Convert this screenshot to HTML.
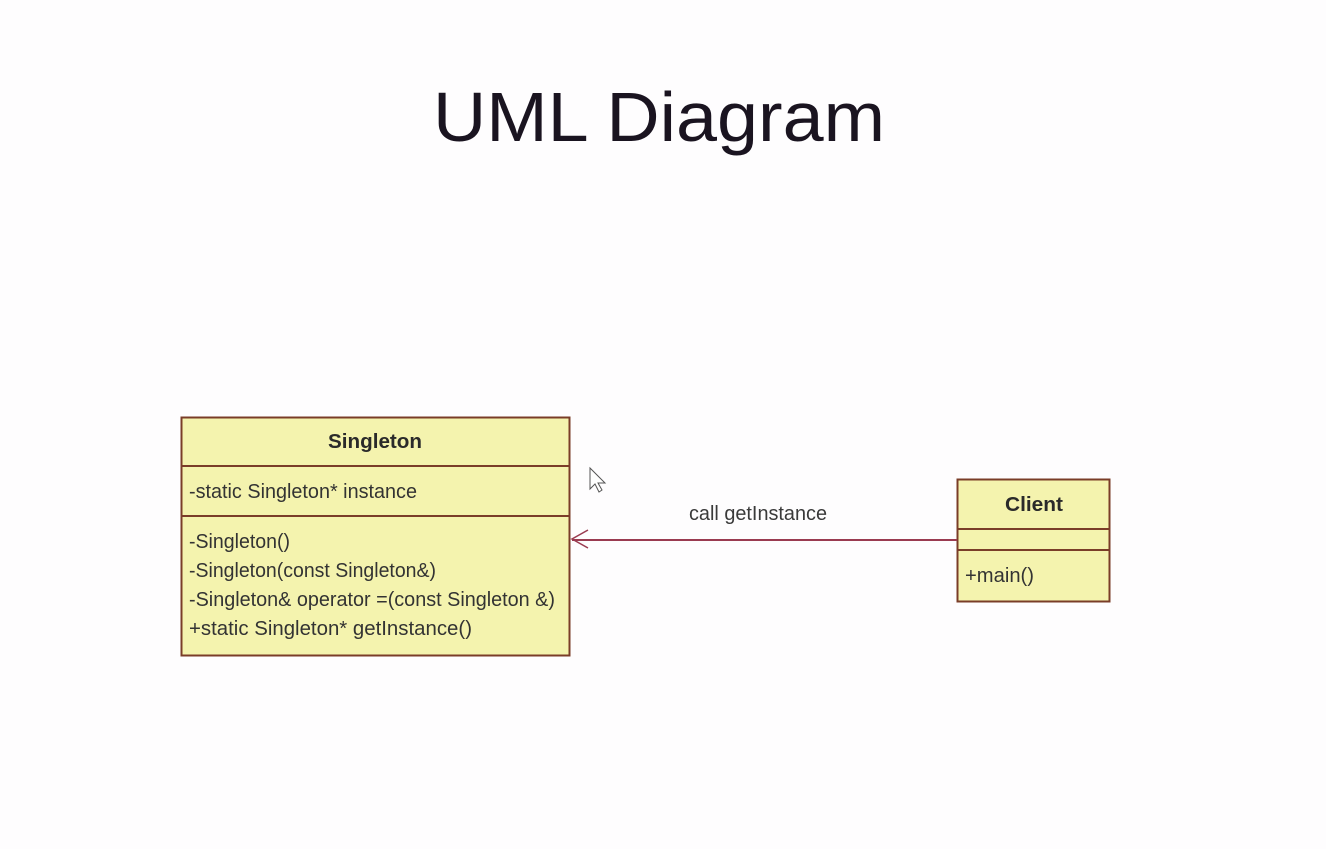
<!DOCTYPE html>
<html><head><meta charset="utf-8"><style>
html,body{margin:0;padding:0;background:#fefdfe;}
svg{display:block;}
</style></head><body>
<svg width="1326" height="849" viewBox="0 0 1326 849" xmlns="http://www.w3.org/2000/svg" font-family="Liberation Sans, sans-serif">
<rect width="1326" height="849" fill="#fefdfe"/>
<text x="659" y="141" font-size="70" text-anchor="middle" fill="#1a1420" textLength="452" lengthAdjust="spacingAndGlyphs">UML Diagram</text>

<!-- Singleton -->
<rect x="181.5" y="417.5" width="388" height="238" fill="#f4f3ae" stroke="#7a3d28" stroke-width="2"/>
<line x1="181" y1="466" x2="570" y2="466" stroke="#7a3d28" stroke-width="2"/>
<line x1="181" y1="516" x2="570" y2="516" stroke="#7a3d28" stroke-width="2"/>
<text x="375" y="448" font-size="20" font-weight="bold" text-anchor="middle" fill="#2a2a2a" textLength="94" lengthAdjust="spacingAndGlyphs">Singleton</text>
<g font-size="20" fill="#333" lengthAdjust="spacingAndGlyphs">
<text x="189" y="498" textLength="228" lengthAdjust="spacingAndGlyphs">-static Singleton* instance</text>
<text x="189" y="548" textLength="101" lengthAdjust="spacingAndGlyphs">-Singleton()</text>
<text x="189" y="577" textLength="247" lengthAdjust="spacingAndGlyphs">-Singleton(const Singleton&amp;)</text>
<text x="189" y="606" textLength="366" lengthAdjust="spacingAndGlyphs">-Singleton&amp; operator =(const Singleton &amp;)</text>
<text x="189" y="635" textLength="283" lengthAdjust="spacingAndGlyphs">+static Singleton* getInstance()</text>
</g>

<!-- Client -->
<rect x="957.5" y="479.5" width="152" height="122" fill="#f4f3ae" stroke="#7a3d28" stroke-width="2"/>
<line x1="957" y1="529" x2="1110" y2="529" stroke="#7a3d28" stroke-width="2"/>
<line x1="957" y1="550" x2="1110" y2="550" stroke="#7a3d28" stroke-width="2"/>
<text x="1034" y="511" font-size="20" font-weight="bold" text-anchor="middle" fill="#2a2a2a" textLength="58" lengthAdjust="spacingAndGlyphs">Client</text>
<text x="965" y="582" font-size="20" fill="#333" textLength="69" lengthAdjust="spacingAndGlyphs">+main()</text>

<!-- connector -->
<line x1="572" y1="540" x2="957" y2="540" stroke="#9a3b50" stroke-width="2"/>
<polyline points="588,530 572,539 588,548" fill="none" stroke="#9a3b50" stroke-width="1.5"/>
<text x="689" y="520" font-size="20" fill="#3a3a3a" textLength="138" lengthAdjust="spacingAndGlyphs">call getInstance</text>

<!-- cursor -->
<path d="M590,468 L590,489 L595,484 L599,492 L602,490 L598,483 L605,483 Z" fill="#fff" stroke="#555" stroke-width="1"/>
</svg>
</body></html>
